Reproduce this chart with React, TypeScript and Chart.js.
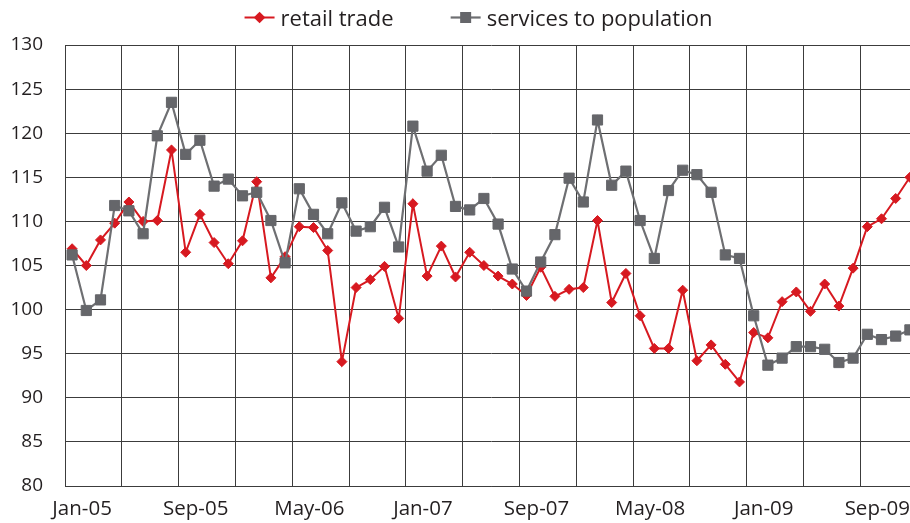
import React, { useEffect, useRef } from 'react';
import { Chart, registerables } from 'chart.js';

Chart.register(...registerables);

// ---- data ----
const categories: string[] = [
  'Jan-05', 'Feb-05', 'Mar-05', 'Apr-05', 'May-05', 'Jun-05', 'Jul-05', 'Aug-05', 'Sep-05', 'Oct-05', 'Nov-05', 'Dec-05',
  'Jan-06', 'Feb-06', 'Mar-06', 'Apr-06', 'May-06', 'Jun-06', 'Jul-06', 'Aug-06', 'Sep-06', 'Oct-06', 'Nov-06', 'Dec-06',
  'Jan-07', 'Feb-07', 'Mar-07', 'Apr-07', 'May-07', 'Jun-07', 'Jul-07', 'Aug-07', 'Sep-07', 'Oct-07', 'Nov-07', 'Dec-07',
  'Jan-08', 'Feb-08', 'Mar-08', 'Apr-08', 'May-08', 'Jun-08', 'Jul-08', 'Aug-08', 'Sep-08', 'Oct-08', 'Nov-08', 'Dec-08',
  'Jan-09', 'Feb-09', 'Mar-09', 'Apr-09', 'May-09', 'Jun-09', 'Jul-09', 'Aug-09', 'Sep-09', 'Oct-09', 'Nov-09', 'Dec-09',
];

const retailTrade: number[] = [
  106.9, 105.0, 107.9, 109.8, 112.2, 110.0, 110.1, 118.1, 106.5, 110.8,
  107.6, 105.2, 107.8, 114.5, 103.6, 106.0, 109.4, 109.3, 106.7, 94.1,
  102.5, 103.4, 104.9, 99.0, 112.0, 103.8, 107.2, 103.7, 106.5, 105.0,
  103.8, 102.9, 101.6, 104.8, 101.5, 102.3, 102.5, 110.1, 100.8, 104.1,
  99.3, 95.6, 95.6, 102.2, 94.2, 96.0, 93.8, 91.8, 97.4, 96.8,
  100.9, 102.0, 99.8, 102.9, 100.4, 104.7, 109.4, 110.3, 112.6, 115.0,
];

const servicesToPopulation: number[] = [
  106.2, 99.9, 101.1, 111.8, 111.2, 108.6, 119.7, 123.5, 117.6, 119.2,
  114.0, 114.8, 112.9, 113.3, 110.1, 105.3, 113.7, 110.8, 108.6, 112.1,
  108.9, 109.4, 111.6, 107.1, 120.8, 115.7, 117.5, 111.7, 111.3, 112.6,
  109.7, 104.6, 102.1, 105.4, 108.5, 114.9, 112.2, 121.5, 114.1, 115.7,
  110.1, 105.8, 113.5, 115.8, 115.3, 113.3, 106.2, 105.8, 99.3, 93.7,
  94.5, 95.8, 95.8, 95.5, 94.0, 94.5, 97.2, 96.6, 97.0, 97.7,
];

const seriesLabels = ['retail trade', 'services to population'];
const yMin = 80;
const yMax = 130;
const yStep = 5;
const labelEvery = 8;
const gridEvery = 4;

// ---- styles ----
const RED = '#d71920';
const GRAY_MARK = '#65666a';
const GRAY_LINE = '#6e6f72';
const GRID = '#3c3c3c';
const TEXT = '#231f20';
const FONT = "'Open Sans', sans-serif";

const legendPlugin = {
  id: 'lineLegend',
  afterDraw(chart: any) {
    const ctx = chart.ctx as CanvasRenderingContext2D;
    ctx.save();
    ctx.font = `22px ${FONT}`;
    const datasets = chart.data.datasets as any[];
    const order = [0, 1];
    const markerW = 30;
    const textGap = 6;
    const itemGap = 57;
    const widths = order.map((i) => ctx.measureText(datasets[i].label).width);
    const total = widths.reduce((s, w) => s + markerW + textGap + w, 0) + itemGap * (order.length - 1);
    let x = 478.5 - total / 2;
    const my = 17.5;
    const ty = 20;
    order.forEach((di, k) => {
      const ds = datasets[di];
      ctx.strokeStyle = ds.borderColor;
      ctx.lineWidth = ds.borderWidth;
      ctx.beginPath();
      ctx.moveTo(x, my);
      ctx.lineTo(x + markerW, my);
      ctx.stroke();
      const cx = x + markerW / 2;
      ctx.fillStyle = ds.pointBackgroundColor;
      ctx.beginPath();
      if (ds.pointStyle === 'rectRot') {
        const r = 5.8;
        ctx.moveTo(cx - r, my);
        ctx.lineTo(cx, my - r);
        ctx.lineTo(cx + r, my);
        ctx.lineTo(cx, my + r);
        ctx.closePath();
      } else {
        const h = 5.5;
        ctx.rect(cx - h, my - h, 2 * h, 2 * h);
      }
      ctx.fill();
      ctx.fillStyle = TEXT;
      ctx.textAlign = 'left';
      ctx.textBaseline = 'middle';
      ctx.fillText(ds.label, x + markerW + textGap, ty);
      x += markerW + textGap + widths[k] + itemGap;
    });
    ctx.restore();
  },
};

export default function App() {
  const ref = useRef<HTMLCanvasElement>(null);

  useEffect(() => {
    const canvas = ref.current;
    if (!canvas) return;
    Chart.defaults.font.family = FONT;
    Chart.defaults.color = TEXT;
    const chart = new Chart(canvas, {
      type: 'line',
      data: {
        labels: categories,
        datasets: [
          {
            label: seriesLabels[0],
            data: retailTrade,
            borderColor: RED,
            backgroundColor: RED,
            borderWidth: 2,
            pointStyle: 'rectRot',
            pointRadius: 5,
            pointBackgroundColor: RED,
            pointBorderColor: RED,
            pointBorderWidth: 1,
            tension: 0,
            order: 2,
          },
          {
            label: seriesLabels[1],
            data: servicesToPopulation,
            borderColor: GRAY_LINE,
            backgroundColor: GRAY_MARK,
            borderWidth: 2.2,
            pointStyle: 'rect',
            pointRadius: 7.2,
            pointBackgroundColor: GRAY_MARK,
            pointBorderColor: GRAY_MARK,
            pointBorderWidth: 1,
            tension: 0,
            order: 1,
          },
        ],
      },
      options: {
        responsive: false,
        animation: false,
        devicePixelRatio: 1,
        layout: { padding: { top: 45, left: 0, right: 13, bottom: 0 } },
        plugins: {
          legend: { display: false },
          tooltip: { enabled: false },
        },
        scales: {
          x: {
            type: 'category',
            offset: true,
            grid: {
              offset: true,
              drawTicks: false,
              color: (c: any) => (c.index % gridEvery === 0 ? GRID : 'rgba(0,0,0,0)'),
              lineWidth: 1,
            },
            border: { display: true, color: GRID, width: 1 },
            ticks: {
              autoSkip: false,
              maxRotation: 0,
              minRotation: 0,
              padding: 11,
              labelOffset: 10,
              color: TEXT,
              font: { size: 20.5, family: FONT },
              callback: (_v: any, i: number) => (i % labelEvery === 0 ? categories[i] : ''),
            },
            afterFit: (s: any) => {
              s.height = 37;
            },
          },
          y: {
            min: yMin,
            max: yMax,
            grid: { drawTicks: false, color: GRID, lineWidth: 1 },
            border: { display: true, color: GRID, width: 1 },
            ticks: {
              stepSize: yStep,
              padding: 22,
              color: TEXT,
              font: { size: 19, family: FONT },
            },
            afterFit: (s: any) => {
              s.width = 65;
            },
          },
        },
      },
      plugins: [legendPlugin],
    });
    return () => chart.destroy();
  }, []);

  return (
    <div
      style={{
        position: 'fixed',
        left: 0,
        top: 0,
        width: 910,
        height: 523,
        overflow: 'hidden',
        background: '#ffffff',
      }}
    >
      <canvas ref={ref} width={930} height={523} style={{ display: 'block', width: 930, height: 523 }} />
    </div>
  );
}
